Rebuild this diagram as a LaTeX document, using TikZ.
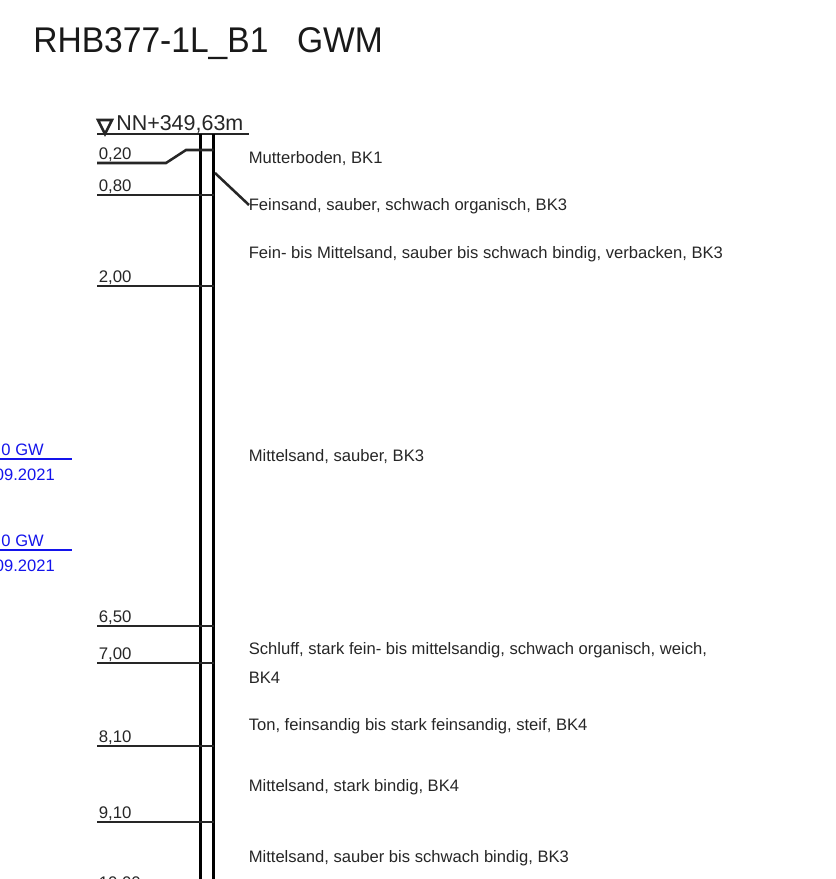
\documentclass[tikz,border=0pt]{standalone}
\usepackage{fontspec}
\setmainfont{Liberation Sans}
\newfontfamily\titlefont[FakeStretch=0.94]{Liberation Sans}
\definecolor{gwblue}{RGB}{20,20,235}
\tikzset{
  bore/.style={line width=2.4pt,black},
  layer/.style={line width=1.9pt,black!85},
  depth/.style={anchor=base west,inner sep=0pt,font=\fontsize{12.6}{12.6}\selectfont,text=black!85},
  soil/.style={anchor=base west,inner sep=0pt,font=\fontsize{12.45}{12.45}\selectfont,text=black!85},
  gwline/.style={line width=2pt,gwblue},
  gwtext/.style={anchor=base east,inner sep=0pt,font=\fontsize{12.4}{12.4}\selectfont,text=gwblue}
}
\begin{document}
\begin{tikzpicture}[x=0.75pt,y=-0.75pt]
      \useasboundingbox (0,0) rectangle (836,879);
      \clip (0,0) rectangle (836,879);

      % Title and head of the bore
      \node[anchor=base west,inner sep=0pt,font=\titlefont\fontsize{26.8}{26.8}\selectfont,text=black!90] (title) at (33,52) {RHB377-1L\_B1\hspace{0.8em}GWM};
      \node[anchor=base west,inner sep=0pt,font=\fontsize{16.1}{16.1}\selectfont,text=black!85] (level) at (116,130) {NN+349,63m};
      \coordinate (topl) at (97,134);
      \coordinate (topr) at (249,134);
      \draw[layer] (topl) -- (topr);
      \coordinate (tria) at (98,120);
      \coordinate (trib) at (112,120);
      \coordinate (tric) at (105,134);
      \draw[layer] (tria) -- (trib) -- (tric) -- cycle;

      % Draw the two bore lines
      \coordinate (borela) at (200.7,134);
      \coordinate (borelb) at (200.7,885);
      \coordinate (borera) at (213.7,134);
      \coordinate (borerb) at (213.7,885);
      \draw[bore] (borela) -- (borelb);
      \draw[bore] (borera) -- (borerb);

      % Add the layer lines with their depths
      \foreach \y/\d in {195/{0,80}, 286/{2,00}, 626/{6,50}, 663/{7,00}, 746/{8,10}, 822/{9,10}} {
          \coordinate (la\y) at (97,\y);
          \coordinate (lb\y) at (213.7,\y);
          \draw[layer] (la\y) -- (lb\y);
          \node[depth] (d\y) at (98.5,\y-4) {\d};
      }

      % First layer line has a kink
      \coordinate (ka) at (97,163);
      \coordinate (kb) at (166,163);
      \coordinate (kc) at (186,150);
      \coordinate (kd) at (213.7,150);
      \draw[layer] (ka) -- (kb) -- (kc) -- (kd);
      \node[depth] (d163) at (98.5,159) {0,20};
      \node[depth] (d885) at (98.5,888) {10,00};

      % Soil descriptions
      \foreach \y/\t in {163/{Mutterboden, BK1}, 210/{Feinsand, sauber, schwach organisch, BK3},
          258/{Fein- bis Mittelsand, sauber bis schwach bindig, verbacken, BK3},
          461/{Mittelsand, sauber, BK3},
          654/{Schluff, stark fein- bis mittelsandig, schwach organisch, weich,},
          683/{BK4}, 730/{Ton, feinsandig bis stark feinsandig, steif, BK4},
          791/{Mittelsand, stark bindig, BK4},
          862/{Mittelsand, sauber bis schwach bindig, BK3}} {
          \node[soil] (s\y) at (248.5,\y) {\t};
      }
      \coordinate (leada) at (215,173);
      \coordinate (leadb) at (249,205);
      \draw[layer] (leada) -- (leadb);

      % Ground water marks
      \foreach \y in {459, 550} {
          \coordinate (gwa\y) at (-2,\y);
          \coordinate (gwb\y) at (72,\y);
          \draw[gwline] (gwa\y) -- (gwb\y);
          \node[gwtext] (gwt\y) at (44,\y-4) {0 GW};
          \node[gwtext] (gwd\y) at (55,\y+21) {09.2021};
      }
    \end{tikzpicture}
\end{document}
